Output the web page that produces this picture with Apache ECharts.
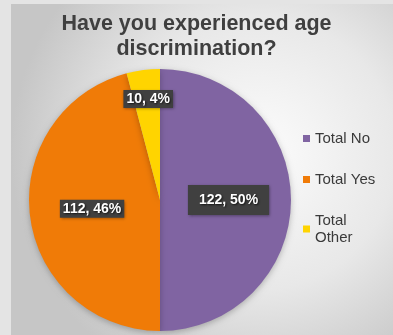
<!DOCTYPE html>
<html>
<head>
<meta charset="utf-8">
<script src="https://cdn.jsdelivr.net/npm/echarts@6/dist/echarts.min.js"></script>
<style>
    html, body { margin: 0; padding: 0; background: #e4e4e4; }
    #chart { width: 393px; height: 335px; }
</style>
</head>
<body>
<div id="chart"></div>
<script>
// 数据
var categories = ['Total No', 'Total Yes', 'Total Other'];
var values = [122, 112, 10];
var percents = ['50%', '46%', '4%'];
var colors = ['#8064a2', '#f07b07', '#ffd400'];

var chart = echarts.init(document.getElementById('chart'));

// label box padding per slice (the big one has a wider box)
var labelPads = [[8, 11], [2, 3], [2, 3]];

var pieData = [];
for (var i = 0; i < categories.length; i++) {
    pieData.push({
        name: categories[i],
        value: values[i],
        pct: percents[i],
        itemStyle: { color: colors[i] },
        label: { padding: labelPads[i] }
    });
}

var option = {
    animation: false,
    graphic: [{
        type: 'rect',
        silent: true,
        z: -10,
        shape: { x: 11, y: 4, width: 382, height: 331 },
        style: {
            fill: new echarts.graphic.RadialGradient(0.65, 0.45, 0.75, [
                { offset: 0, color: '#fcfcfc' },
                { offset: 0.55, color: '#e8e8e8' },
                { offset: 1, color: '#c6c6c6' }
            ])
        }
    }],
    title: {
        text: 'Have you experienced age\ndiscrimination?',
        left: 'center',
        top: 7,
        textStyle: {
            color: '#3f3f3f',
            fontSize: 21.5,
            fontWeight: 'bold',
            lineHeight: 25,
            fontFamily: 'Liberation Sans, Arial'
        }
    },
    legend: {
        orient: 'vertical',
        left: 298,
        top: 125,
        itemWidth: 7,
        itemHeight: 7,
        itemGap: 24,
        icon: 'rect',
        data: categories,
        formatter: function(name) {
            return name.replace(' Other', '\nOther');
        },
        textStyle: {
            color: '#3a3a3a',
            fontSize: 15,
            lineHeight: 17,
            fontFamily: 'Liberation Sans, Arial'
        }
    },
    series: [{
        type: 'pie',
        center: [160, 200],
        radius: 131,
        startAngle: 90,
        clockwise: true,
        itemStyle: {
            shadowBlur: 6,
            shadowColor: 'rgba(0,0,0,0.25)',
            shadowOffsetY: 2
        },
        label: {
            show: true,
            position: 'inside',
            formatter: function(p) {
                return p.value + ', ' + p.data.pct;
            },
            color: '#fff',
            fontSize: 14,
            fontWeight: 'bold',
            fontFamily: 'Liberation Sans, Arial',
            backgroundColor: '#404040',
            textShadowColor: 'rgba(0,0,0,0.7)',
            textShadowBlur: 2,
            textShadowOffsetX: 1,
            textShadowOffsetY: 1,
            shadowColor: 'rgba(0,0,0,0.4)',
            shadowBlur: 3,
            shadowOffsetX: 1,
            shadowOffsetY: 1
        },
        labelLayout: function(params) {
            // small slice label sits further out
            if (params.dataIndex === 2) {
                return { dy: -33, dx: -3 };
            }
        },
        emphasis: { disabled: true },
        data: pieData
    }]
};

chart.setOption(option);
</script>
</body>
</html>
